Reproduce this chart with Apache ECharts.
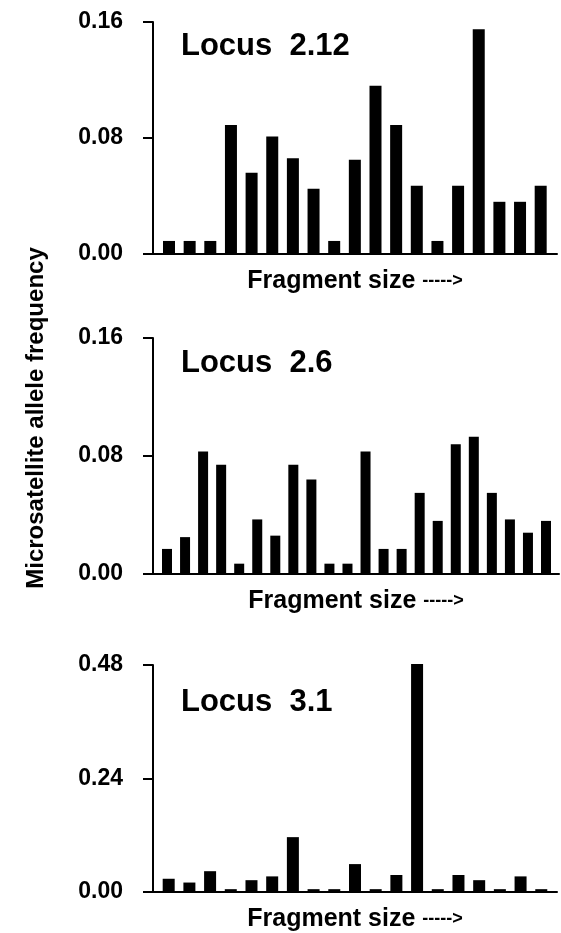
<!DOCTYPE html>
<html>
<head>
<meta charset="utf-8">
<script src="https://cdn.jsdelivr.net/npm/echarts@6/dist/echarts.min.js"></script>
<style>
  html, body { margin: 0; padding: 0; background: #fff; }
  #chart { width: 561px; height: 933px; }
</style>
</head>
<body>
<div id="chart"></div>
<script>
// allele frequencies, in order of fragment size
const freq212 = [0.009, 0.009, 0.009, 0.089, 0.056, 0.081, 0.066, 0.045, 0.009, 0.065,
  0.116, 0.089, 0.047, 0.009, 0.047, 0.155, 0.036, 0.036, 0.047]
const freq26 = [0.017, 0.025, 0.083, 0.074, 0.007, 0.037, 0.026, 0.074, 0.064, 0.007, 0.007,
  0.083, 0.017, 0.017, 0.055, 0.036, 0.088, 0.093, 0.055, 0.037, 0.028, 0.036]
const freq31 = [0.028, 0.020, 0.044, 0.006, 0.025, 0.033, 0.116, 0.006, 0.006, 0.059,
  0.006, 0.036, 0.482, 0.006, 0.036, 0.025, 0.006, 0.033, 0.006]

const ticks212 = [0, 0.08, 0.16]
const ticks26 = [0, 0.08, 0.16]
const ticks31 = [0, 0.24, 0.48]

const loci = ['Locus  2.12', 'Locus  2.6', 'Locus  3.1']
const yName = 'Microsatellite allele frequency'
const xName = 'Fragment size'

const FONT = '"Liberation Sans", Arial, Helvetica, sans-serif'

// panel layout in px
const panels = [
  { freq: freq212, ticks: ticks212, top: 22, height: 232, width: 404, xmin: -0.775, xmax: 18.79, barWidth: 12, titleY: 46 },
  { freq: freq26, ticks: ticks26, top: 338, height: 236, width: 406, xmin: -0.776, xmax: 21.72, barWidth: 10, titleY: 363 },
  { freq: freq31, ticks: ticks31, top: 665, height: 231, width: 404, xmin: -0.758, xmax: 18.76, barWidth: 12, titleY: 702 }
]

const chart = echarts.init(document.getElementById('chart'))

chart.setOption({
  backgroundColor: '#fff',
  animation: false,
  grid: panels.map(p => ({ left: 153, top: p.top, width: p.width, height: p.height })),
  xAxis: panels.map((p, i) => ({
    type: 'value',
    gridIndex: i,
    min: p.xmin,
    max: p.xmax,
    name: '{a|' + xName + '} {b|----->}',
    nameLocation: 'middle',
    nameGap: 15,
    nameTextStyle: {
      fontFamily: FONT,
      fontSize: 25,
      fontWeight: 'bold',
      color: '#000',
      rich: {
        a: { fontFamily: FONT, fontSize: 25, fontWeight: 'bold', color: '#000' },
        b: { fontFamily: FONT, fontSize: 18, color: '#000' }
      }
    },
    axisLine: { show: true, onZero: false, lineStyle: { color: '#000', width: 2 } },
    axisTick: { show: false },
    axisLabel: { show: false },
    splitLine: { show: false }
  })),
  yAxis: panels.map((p, i) => ({
    type: 'value',
    gridIndex: i,
    min: p.ticks[0],
    max: p.ticks[p.ticks.length - 1],
    interval: p.ticks[1] - p.ticks[0],
    axisLine: { show: true, onZero: false, lineStyle: { color: '#000', width: 2 } },
    axisTick: { show: true, length: 10, lineStyle: { color: '#000', width: 2 } },
    axisLabel: {
      margin: 30,
      fontFamily: FONT,
      fontSize: 23,
      fontWeight: 'bold',
      color: '#000',
      formatter: v => v.toFixed(2)
    },
    splitLine: { show: false }
  })),
  series: panels.map((p, i) => ({
    type: 'bar',
    xAxisIndex: i,
    yAxisIndex: i,
    barWidth: p.barWidth,
    clip: false,
    itemStyle: { color: '#000' },
    data: p.freq.map((v, k) => [k, v])
  })),
  graphic: [
    {
      type: 'text',
      x: 36,
      y: 418,
      rotation: Math.PI / 2,
      style: {
        text: yName,
        fontFamily: FONT,
        fontSize: 24,
        fontWeight: 'bold',
        fill: '#000',
        align: 'center',
        verticalAlign: 'middle'
      }
    }
  ].concat(panels.map((p, i) => ({
    type: 'text',
    x: 181,
    y: p.titleY,
    style: {
      text: loci[i],
      fontFamily: FONT,
      fontSize: 31,
      fontWeight: 'bold',
      fill: '#000',
      align: 'left',
      verticalAlign: 'middle'
    }
  })))
})
</script>
</body>
</html>
